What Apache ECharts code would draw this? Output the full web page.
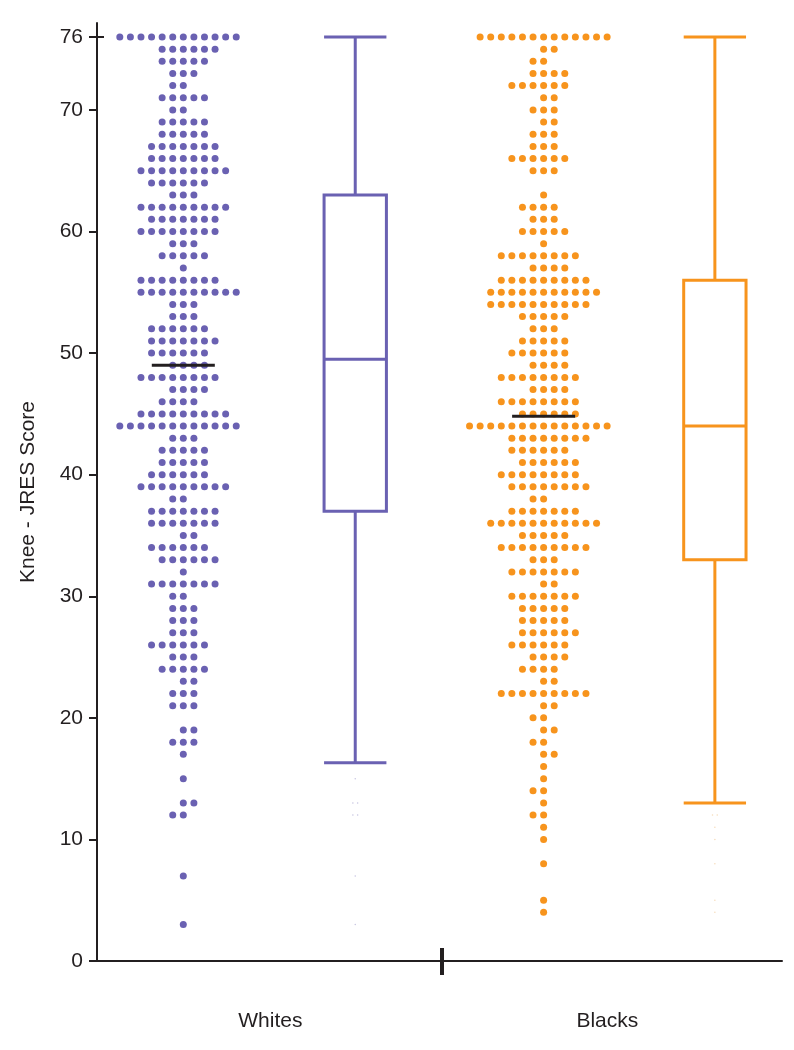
<!DOCTYPE html>
<html>
<head>
<meta charset="utf-8">
<title>Knee - JRES Score</title>
<script src="https://cdn.jsdelivr.net/npm/echarts@6/dist/echarts.min.js"></script>
<style>
	html, body { margin: 0; padding: 0; background: #fff; }
	#chart { width: 794px; height: 1050px; }
</style>
</head>
<body>
<div id="chart"></div>
<script>
// number of subjects at each score, index = score (0..76)
var whitesCounts = [
	0, 0, 0, 1, 0, 0, 0, 1, 0, 0,
	0, 0, 2, 2, 0, 1, 0, 1, 3, 2,
	0, 3, 3, 2, 5, 3, 6, 3, 3, 3,
	2, 7, 1, 6, 6, 2, 7, 7, 2, 9,
	6, 5, 5, 3, 12, 9, 4, 4, 8, 4,
	6, 7, 6, 3, 3, 10, 8, 1, 5, 3,
	8, 7, 9, 3, 6, 9, 7, 7, 5, 5,
	2, 5, 2, 3, 5, 6, 12
];
var blacksCounts = [
	0, 0, 0, 0, 1, 1, 0, 0, 1, 0,
	1, 1, 2, 1, 2, 1, 1, 2, 2, 2,
	2, 2, 9, 2, 4, 4, 6, 6, 5, 5,
	7, 2, 7, 3, 9, 5, 11, 7, 2, 8,
	8, 6, 6, 8, 14, 6, 8, 4, 8, 4,
	6, 5, 3, 5, 10, 11, 9, 4, 8, 1,
	5, 3, 4, 1, 0, 3, 6, 3, 3, 2,
	3, 2, 6, 4, 2, 2, 13
];

// box plots: [low whisker, Q1, median, Q3, high whisker]
var whitesBox = [16.3, 37, 49.5, 63, 76];
var blacksBox = [13, 33, 44, 56, 76];
// values below the low whisker
var whitesOutliers = [15, 13, 13, 12, 12, 7, 3];
var blacksOutliers = [12, 12, 11, 10, 8, 5, 4];
// line drawn across each dot column
var whitesCentre = 49;
var blacksCentre = 44.8;

var groupNames = ['Whites', 'Blacks'];
var yTicks = [0, 10, 20, 30, 40, 50, 60, 70, 76];

var PURPLE = '#6a61b2';
var ORANGE = '#f7941d';
var INK = '#231f20';

// horizontal layout, in units of the hidden 0..100 x axis
var POS = { whitesDots: 12.6, whitesBox: 37.7, split: 50.3, blacksDots: 65.2, blacksBox: 90.2 };
var LABEL_POS = [25.3, 74.5];
var DOT_STEP = 1.545;
var BOX_WIDTH = 9.1;
var LINE_WIDTH = 9.2;

// lay the dots of each score out side by side around the column centre
function swarm(counts, centre) {
	var pts = [];
	for (var s = 0; s < counts.length; s++) {
		var n = counts[s];
		var start = -Math.floor(n / 2);
		if (n % 2 === 0 && s % 2 === 1) start += 1;
		for (var k = 0; k < n; k++) {
			pts.push([centre + (start + k) * DOT_STEP, s]);
		}
	}
	return pts;
}

function specks(values, centre) {
	var pts = [];
	for (var i = 0; i < values.length; i++) {
		var dup = (i > 0 && values[i - 1] === values[i]) ? 0.35 : 0;
		if (i + 1 < values.length && values[i + 1] === values[i]) dup = -0.35;
		pts.push([centre + dup, values[i]]);
	}
	return pts;
}

function renderBox(params, api) {
	var x = api.value(0);
	var color = api.value(6) === 0 ? PURPLE : ORANGE;
	var half = api.size([BOX_WIDTH, 0])[0] / 2;
	var low = api.coord([x, api.value(1)]);
	var q1 = api.coord([x, api.value(2)]);
	var med = api.coord([x, api.value(3)]);
	var q3 = api.coord([x, api.value(4)]);
	var high = api.coord([x, api.value(5)]);
	var cx = low[0];
	var stroke = { stroke: color, lineWidth: 3, fill: null };
	return {
		type: 'group',
		children: [
			{ type: 'line', shape: { x1: cx, y1: low[1], x2: cx, y2: q1[1] }, style: stroke },
			{ type: 'line', shape: { x1: cx, y1: q3[1], x2: cx, y2: high[1] }, style: stroke },
			{ type: 'line', shape: { x1: cx - half, y1: low[1], x2: cx + half, y2: low[1] }, style: stroke },
			{ type: 'line', shape: { x1: cx - half, y1: high[1], x2: cx + half, y2: high[1] }, style: stroke },
			{ type: 'rect', shape: { x: cx - half, y: q3[1], width: half * 2, height: q1[1] - q3[1] },
				style: { stroke: color, lineWidth: 3, fill: '#fff' } },
			{ type: 'line', shape: { x1: cx - half, y1: med[1], x2: cx + half, y2: med[1] }, style: stroke }
		]
	};
}

function renderCentre(params, api) {
	var p = api.coord([api.value(0), api.value(1)]);
	var half = api.size([LINE_WIDTH, 0])[0] / 2;
	return {
		type: 'line',
		shape: { x1: p[0] - half, y1: p[1], x2: p[0] + half, y2: p[1] },
		style: { stroke: INK, lineWidth: 3 }
	};
}

var chart = echarts.init(document.getElementById('chart'));
var fontBase = { fontFamily: 'Liberation Sans, Arial, sans-serif', fontSize: 21, color: INK };

chart.setOption({
	animation: false,
	backgroundColor: '#fff',
	textStyle: { fontFamily: fontBase.fontFamily },
	grid: { left: 97, right: 12, top: 23, bottom: 89 },
	xAxis: [{
		type: 'value', min: 0, max: 100, position: 'bottom',
		axisLine: { show: true, lineStyle: { color: INK, width: 2 } },
		axisTick: { show: true, length: 14, customValues: [POS.split], lineStyle: { color: INK, width: 4 } },
		axisLabel: {
			show: true, margin: 50, customValues: LABEL_POS,
			fontFamily: fontBase.fontFamily, fontSize: fontBase.fontSize, color: INK,
			formatter: function (v) { return v === LABEL_POS[0] ? groupNames[0] : groupNames[1]; }
		},
		splitLine: { show: false }
	}, {
		type: 'value', min: 0, max: 100, position: 'bottom',
		axisLine: { show: false },
		axisTick: { show: true, inside: true, length: 13, customValues: [POS.split], lineStyle: { color: INK, width: 4 } },
		axisLabel: { show: false },
		splitLine: { show: false }
	}],
	yAxis: [{
		type: 'value', min: 0, max: 77.15, position: 'left',
		name: 'Knee - JRES Score', nameLocation: 'middle', nameGap: 58,
		nameTextStyle: { fontFamily: fontBase.fontFamily, fontSize: fontBase.fontSize, color: INK },
		axisLine: { show: true, lineStyle: { color: INK, width: 2 } },
		axisTick: { show: true, length: 8, customValues: yTicks, lineStyle: { color: INK, width: 2 } },
		axisLabel: {
			show: true, margin: 14, customValues: yTicks,
			fontFamily: fontBase.fontFamily, fontSize: fontBase.fontSize, color: INK
		},
		splitLine: { show: false }
	}, {
		type: 'value', min: 0, max: 77.15, position: 'left',
		axisLine: { show: false },
		axisTick: { show: true, inside: true, length: 7, customValues: [76], lineStyle: { color: INK, width: 2 } },
		axisLabel: { show: false },
		splitLine: { show: false }
	}],
	series: [{
		name: 'Whites', type: 'scatter', symbolSize: 7,
		itemStyle: { color: PURPLE, opacity: 1 },
		data: swarm(whitesCounts, POS.whitesDots)
	}, {
		name: 'Blacks', type: 'scatter', symbolSize: 7,
		itemStyle: { color: ORANGE, opacity: 1 },
		data: swarm(blacksCounts, POS.blacksDots)
	}, {
		name: 'outliers', type: 'scatter', symbolSize: 1.5,
		itemStyle: { color: '#b8b4d8' },
		data: specks(whitesOutliers, POS.whitesBox)
	}, {
		name: 'outliers2', type: 'scatter', symbolSize: 1.5,
		itemStyle: { color: '#f3d2a8' },
		data: specks(blacksOutliers, POS.blacksBox)
	}, {
		name: 'box', type: 'custom', renderItem: renderBox,
		data: [
			[POS.whitesBox].concat(whitesBox, [0]),
			[POS.blacksBox].concat(blacksBox, [1])
		],
		z: 3
	}, {
		name: 'centre', type: 'custom', renderItem: renderCentre,
		data: [[POS.whitesDots, whitesCentre], [POS.blacksDots, blacksCentre]],
		z: 4
	}]
});
</script>
</body>
</html>
